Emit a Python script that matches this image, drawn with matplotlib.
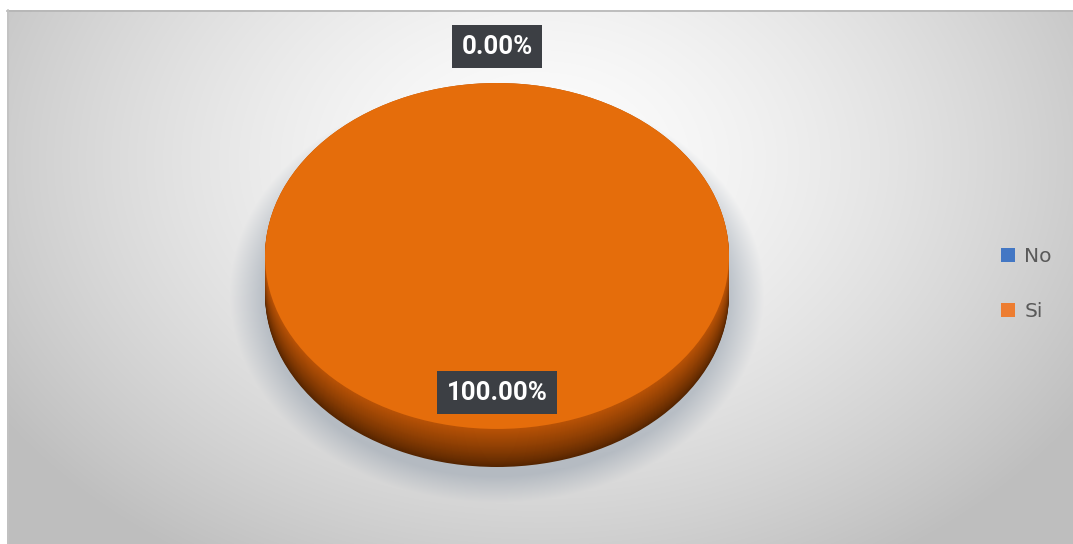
import numpy as np
import matplotlib
matplotlib.use("Agg")
import matplotlib.pyplot as plt
from matplotlib.colors import to_rgb
from matplotlib.patches import Patch

# Survey answers (percent)
categories = ["No", "Si"]
values = [0.0, 100.0]
legend_colors = ["#4377c4", "#ed7d31"]
top_colors = ["#4377c4", "#e56d0b"]

W, H = 1073, 544
fig = plt.figure(figsize=(W / 100, H / 100), dpi=100)
fig.patch.set_facecolor("white")

# background: radial grey gradient plus a soft shadow under the pie
bg = fig.add_axes([0, 0, 1, 1])
bg.set_xlim(0, W)
bg.set_ylim(H, 0)
bg.axis("off")

x0, y0 = 7, 10
X, Y = np.meshgrid(np.arange(x0, W) + 0.5, np.arange(y0, H) + 0.5)
d = np.sqrt(((X - 540) / 640) ** 2 + ((Y - 160) / 470) ** 2)
level = np.clip(253 - 62 * np.clip(d, 0, 1.2) ** 1.5, 190, 255) / 255
img = np.dstack([level, level, level])

e = np.sqrt(((X - 497) / 243) ** 2 + ((Y - 294) / 190) ** 2)
shade = np.clip((1.10 - e) / 0.14, 0, 1) * 0.5
tint = np.array(to_rgb("#8e9aa8"))
img = img * (1 - shade[..., None]) + tint * shade[..., None]
bg.imshow(img, extent=(x0, W, H, y0), interpolation="bilinear", zorder=0)
bg.plot([x0, W], [y0 + 0.5, y0 + 0.5], color="#b4b4b4", lw=1.2, zorder=1)
bg.plot([x0 + 0.5, x0 + 0.5], [y0, H], color="#c2c2c2", lw=1.2, zorder=1)

# 3D pie: stacked copies shifted downward form the side wall
ax = fig.add_axes([265 / W, 77 / H, 464 / W, 384 / H])
depth = 0.22
n_layers = 40
side_top = np.array(to_rgb("#b95306"))
side_bot = np.array(to_rgb("#542400"))
for i in range(n_layers):
    t = i / (n_layers - 1)
    dz = depth * (1 - t)
    c = side_bot + (side_top - side_bot) * t ** 0.8
    ax.pie(values, colors=[c, c], startangle=90, counterclock=False,
           center=(0, -dz), wedgeprops=dict(linewidth=0))
wedges, _ = ax.pie(values, colors=top_colors, startangle=90, counterclock=False,
                   wedgeprops=dict(linewidth=0))
ax.set_aspect("auto")
ax.set_xlim(-1, 1)
ax.set_ylim(-1 - depth, 1)
ax.axis("off")

# value labels placed along each wedge's mid-angle
for w, v in zip(wedges, values):
    mid = np.deg2rad((w.theta1 + w.theta2) / 2)
    r = 1.21 if v < 5 else 0.79
    ax.text(r * np.cos(mid), r * np.sin(mid), f"{v:.2f}%",
            ha="center", va="center", color="white", fontsize=18.5,
            fontweight="bold", family="Roboto", clip_on=False,
            bbox=dict(boxstyle="square,pad=0.36", fc="#3c3f44", ec="none"))

handles = [Patch(facecolor=c, edgecolor="none") for c in legend_colors]
fig.legend(handles, categories, loc="center left",
           bbox_to_anchor=(1001 / W, 1 - 284 / H), frameon=False,
           borderpad=0, borderaxespad=0, handlelength=0.7, handleheight=0.7,
           handletextpad=0.45, labelspacing=1.75, fontsize=14.5,
           labelcolor="#595959")

fig.savefig("out.png", dpi=100)
